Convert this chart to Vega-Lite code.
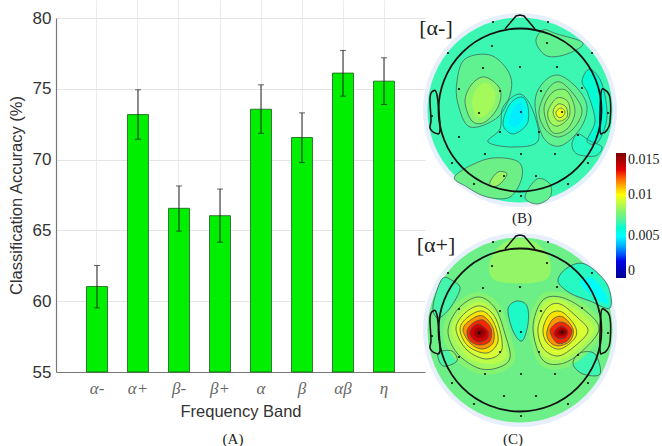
{
"$schema":"https://vega.github.io/schema/vega-lite/v6.json",
"background":"white",
"padding":{"left":8,"top":0,"right":0,"bottom":0},
"config":{"view":{"stroke":null},"font":"Liberation Sans"},
"bounds":"flush",
"spacing":0,
"datasets":{
"dots":[{"x":-27,"y":88},{"x":28,"y":88},{"x":-28,"y":64},{"x":27,"y":67},{"x":-72,"y":57},{"x":72,"y":57},{"x":-37,"y":42},{"x":0,"y":43},{"x":37,"y":43},{"x":-61,"y":21},{"x":-20,"y":19},{"x":21,"y":19},{"x":62,"y":22},{"x":-88,"y":-6},{"x":-41,"y":-3},{"x":1,"y":-2},{"x":42,"y":-2},{"x":88,"y":-3},{"x":-61,"y":-27},{"x":-20,"y":-22},{"x":19,"y":-22},{"x":58,"y":-25},{"x":-35,"y":-44},{"x":1,"y":-44},{"x":35,"y":-44},{"x":-68,"y":-53},{"x":68,"y":-53},{"x":-16,"y":-66},{"x":16,"y":-66},{"x":-46,"y":-74},{"x":48,"y":-74},{"x":1,"y":-86}],
"nose":[{"x":-15,"y":81},{"x":-4,"y":94},{"x":0,"y":95},{"x":4,"y":94},{"x":15,"y":81}],
"ears":[{"e":"l","x":-83,"y":15},{"e":"l","x":-87,"y":19},{"e":"l","x":-90,"y":12},{"e":"l","x":-89,"y":-10},{"e":"l","x":-90,"y":-18},{"e":"l","x":-85,"y":-23},{"e":"l","x":-80,"y":-20},{"e":"r","x":81,"y":17},{"e":"r","x":85,"y":20},{"e":"r","x":90,"y":12},{"e":"r","x":90,"y":-12},{"e":"r","x":87,"y":-20},{"e":"r","x":83,"y":-23},{"e":"r","x":80,"y":-20}],
"mapB":[
{"c":"L1","v":0.0072,"x":-63,"y":29},{"c":"L1","v":0.0072,"x":-55,"y":51},{"c":"L1","v":0.0072,"x":-30,"y":55},{"c":"L1","v":0.0072,"x":-12,"y":39},{"c":"L1","v":0.0072,"x":-9,"y":19},{"c":"L1","v":0.0072,"x":-22,"y":-7},{"c":"L1","v":0.0072,"x":-50,"y":-17},{"c":"L1","v":0.0072,"x":-62,"y":6},
{"c":"L2","v":0.008,"x":-55,"y":9},{"c":"L2","v":0.008,"x":-48,"y":26},{"c":"L2","v":0.008,"x":-35,"y":33},{"c":"L2","v":0.008,"x":-20,"y":21},{"c":"L2","v":0.008,"x":-22,"y":3},{"c":"L2","v":0.008,"x":-35,"y":-12},{"c":"L2","v":0.008,"x":-48,"y":-11},
{"c":"L2b","v":0.0085,"b":1,"x":-48,"y":8},{"c":"L2b","v":0.0085,"b":1,"x":-43,"y":22},{"c":"L2b","v":0.0085,"b":1,"x":-34,"y":27},{"c":"L2b","v":0.0085,"b":1,"x":-25,"y":18},{"c":"L2b","v":0.0085,"b":1,"x":-27,"y":4},{"c":"L2b","v":0.0085,"b":1,"x":-36,"y":-6},{"c":"L2b","v":0.0085,"b":1,"x":-44,"y":-6},
{"c":"M0","v":0.0063,"x":-32,"y":-32},{"c":"M0","v":0.0063,"x":-20,"y":-19},{"c":"M0","v":0.0063,"x":-17,"y":3},{"c":"M0","v":0.0063,"x":0,"y":16},{"c":"M0","v":0.0063,"x":13,"y":-1},{"c":"M0","v":0.0063,"x":18,"y":-31},{"c":"M0","v":0.0063,"x":-7,"y":-37},
{"c":"C1","v":0.0056,"x":-17,"y":-14},{"c":"C1","v":0.0056,"x":-10,"y":6},{"c":"C1","v":0.0056,"x":2,"y":13},{"c":"C1","v":0.0056,"x":8,"y":3},{"c":"C1","v":0.0056,"x":7,"y":-14},{"c":"C1","v":0.0056,"x":-7,"y":-24},
{"c":"C1b","v":0.0047,"b":1,"x":-11,"y":-12},{"c":"C1b","v":0.0047,"b":1,"x":-6,"y":3},{"c":"C1b","v":0.0047,"b":1,"x":1,"y":7},{"c":"C1b","v":0.0047,"b":1,"x":3,"y":0},{"c":"C1b","v":0.0047,"b":1,"x":2,"y":-11},{"c":"C1b","v":0.0047,"b":1,"x":-6,"y":-17},
{"c":"R1","v":0.0072,"x":15,"y":6},{"c":"R1","v":0.0072,"x":22,"y":26},{"c":"R1","v":0.0072,"x":38,"y":35},{"c":"R1","v":0.0072,"x":57,"y":22},{"c":"R1","v":0.0072,"x":67,"y":3},{"c":"R1","v":0.0072,"x":60,"y":-19},{"c":"R1","v":0.0072,"x":40,"y":-36},{"c":"R1","v":0.0072,"x":23,"y":-27},
{"c":"R2","v":0.0076,"x":19,"y":-1},{"c":"R2","v":0.0076,"x":28,"y":21},{"c":"R2","v":0.0076,"x":40,"y":28},{"c":"R2","v":0.0076,"x":55,"y":14},{"c":"R2","v":0.0076,"x":62,"y":-2},{"c":"R2","v":0.0076,"x":53,"y":-19},{"c":"R2","v":0.0076,"x":38,"y":-27},{"c":"R2","v":0.0076,"x":25,"y":-19},
{"c":"R3","v":0.008,"x":24,"y":1},{"c":"R3","v":0.008,"x":33,"y":18},{"c":"R3","v":0.008,"x":47,"y":19},{"c":"R3","v":0.008,"x":55,"y":-1},{"c":"R3","v":0.008,"x":47,"y":-19},{"c":"R3","v":0.008,"x":32,"y":-22},
{"c":"R4","v":0.0085,"x":28,"y":-1},{"c":"R4","v":0.0085,"x":37,"y":12},{"c":"R4","v":0.0085,"x":48,"y":8},{"c":"R4","v":0.0085,"x":49,"y":-7},{"c":"R4","v":0.0085,"x":38,"y":-16},{"c":"R4","v":0.0085,"x":30,"y":-12},
{"c":"R5","v":0.0092,"x":33,"y":-2},{"c":"R5","v":0.0092,"x":38,"y":6},{"c":"R5","v":0.0092,"x":46,"y":3},{"c":"R5","v":0.0092,"x":47,"y":-7},{"c":"R5","v":0.0092,"x":38,"y":-11},
{"c":"R6","v":0.0098,"x":36,"y":-2},{"c":"R6","v":0.0098,"x":41,"y":2},{"c":"R6","v":0.0098,"x":45,"y":-2},{"c":"R6","v":0.0098,"x":42,"y":-7},{"c":"R6","v":0.0098,"x":38,"y":-7},
{"c":"S1","v":0.006,"x":62,"y":29},{"c":"S1","v":0.006,"x":70,"y":41},{"c":"S1","v":0.006,"x":82,"y":26},{"c":"S1","v":0.006,"x":87,"y":-7},{"c":"S1","v":0.006,"x":78,"y":-32},{"c":"S1","v":0.006,"x":67,"y":-31},{"c":"S1","v":0.006,"x":75,"y":-11},{"c":"S1","v":0.006,"x":68,"y":16},
{"c":"S2","v":0.0063,"x":52,"y":-34},{"c":"S2","v":0.0063,"x":58,"y":-24},{"c":"S2","v":0.0063,"x":70,"y":-31},{"c":"S2","v":0.0063,"x":82,"y":-37},{"c":"S2","v":0.0063,"x":75,"y":-46},{"c":"S2","v":0.0063,"x":57,"y":-44},
{"c":"T1","v":0.0072,"x":16,"y":68},{"c":"T1","v":0.0072,"x":23,"y":80},{"c":"T1","v":0.0072,"x":37,"y":76},{"c":"T1","v":0.0072,"x":63,"y":67},{"c":"T1","v":0.0072,"x":47,"y":56},{"c":"T1","v":0.0072,"x":27,"y":54},
{"c":"Q1","v":0.0074,"x":-65,"y":-66},{"c":"Q1","v":0.0074,"x":-33,"y":-49},{"c":"Q1","v":0.0074,"x":-3,"y":-51},{"c":"Q1","v":0.0074,"x":2,"y":-67},{"c":"Q1","v":0.0074,"x":-10,"y":-87},{"c":"Q1","v":0.0074,"x":-33,"y":-87},{"c":"Q1","v":0.0074,"x":-53,"y":-77},
{"c":"Q2","v":0.0083,"x":-30,"y":-72},{"c":"Q2","v":0.0083,"x":-22,"y":-62},{"c":"Q2","v":0.0083,"x":-13,"y":-64},{"c":"Q2","v":0.0083,"x":-20,"y":-74},{"c":"Q2","v":0.0083,"x":-28,"y":-77},
{"c":"P1","v":0.0072,"x":5,"y":-87},{"c":"P1","v":0.0072,"x":17,"y":-69},{"c":"P1","v":0.0072,"x":30,"y":-74},{"c":"P1","v":0.0072,"x":30,"y":-87},{"c":"P1","v":0.0072,"x":17,"y":-94}
],
"mapC":[
{"c":"T","v":0.0082,"b":1,"x":-30,"y":69},{"c":"T","v":0.0082,"b":1,"x":-13,"y":89},{"c":"T","v":0.0082,"b":1,"x":13,"y":89},{"c":"T","v":0.0082,"b":1,"x":30,"y":69},{"c":"T","v":0.0082,"b":1,"x":23,"y":49},{"c":"T","v":0.0082,"b":1,"x":-23,"y":49},
{"c":"U1","v":0.0063,"x":38,"y":49},{"c":"U1","v":0.0063,"x":47,"y":62},{"c":"U1","v":0.0063,"x":65,"y":66},{"c":"U1","v":0.0063,"x":87,"y":46},{"c":"U1","v":0.0063,"x":90,"y":22},{"c":"U1","v":0.0063,"x":70,"y":29},{"c":"U1","v":0.0063,"x":50,"y":37},
{"c":"U2","v":0.0052,"b":1,"x":60,"y":47},{"c":"U2","v":0.0052,"b":1,"x":72,"y":52},{"c":"U2","v":0.0052,"b":1,"x":85,"y":37},{"c":"U2","v":0.0052,"b":1,"x":87,"y":26},{"c":"U2","v":0.0052,"b":1,"x":73,"y":34},
{"c":"V1","v":0.0062,"x":-12,"y":21},{"c":"V1","v":0.0062,"x":-3,"y":29},{"c":"V1","v":0.0062,"x":7,"y":24},{"c":"V1","v":0.0062,"x":8,"y":6},{"c":"V1","v":0.0062,"x":2,"y":-11},{"c":"V1","v":0.0062,"x":-7,"y":-1},
{"c":"W1","v":0.0067,"x":-78,"y":51},{"c":"W1","v":0.0067,"x":-67,"y":49},{"c":"W1","v":0.0067,"x":-60,"y":41},{"c":"W1","v":0.0067,"x":-70,"y":22},{"c":"W1","v":0.0067,"x":-82,"y":12},{"c":"W1","v":0.0067,"x":-87,"y":24},
{"c":"W2","v":0.0068,"x":-82,"y":-23},{"c":"W2","v":0.0068,"x":-68,"y":-21},{"c":"W2","v":0.0068,"x":-63,"y":-31},{"c":"W2","v":0.0068,"x":-77,"y":-36},
{"c":"W3","v":0.0066,"x":53,"y":-34},{"c":"W3","v":0.0066,"x":60,"y":-23},{"c":"W3","v":0.0066,"x":75,"y":-24},{"c":"W3","v":0.0066,"x":80,"y":-44},{"c":"W3","v":0.0066,"x":63,"y":-44},
{"c":"L00","v":0.0079,"b":1,"x":-77,"y":-1},{"c":"L00","v":0.0079,"b":1,"x":-66,"y":25},{"c":"L00","v":0.0079,"b":1,"x":-42,"y":38},{"c":"L00","v":0.0079,"b":1,"x":-21,"y":26},{"c":"L00","v":0.0079,"b":1,"x":-10,"y":-4},{"c":"L00","v":0.0079,"b":1,"x":-5,"y":-30},{"c":"L00","v":0.0079,"b":1,"x":-21,"y":-43},{"c":"L00","v":0.0079,"b":1,"x":-44,"y":-43},{"c":"L00","v":0.0079,"b":1,"x":-67,"y":-27},
{"c":"L0","v":0.0084,"x":-72,"y":-1},{"c":"L0","v":0.0084,"x":-62,"y":21},{"c":"L0","v":0.0084,"x":-42,"y":33},{"c":"L0","v":0.0084,"x":-25,"y":22},{"c":"L0","v":0.0084,"x":-15,"y":-4},{"c":"L0","v":0.0084,"x":-10,"y":-28},{"c":"L0","v":0.0084,"x":-23,"y":-38},{"c":"L0","v":0.0084,"x":-42,"y":-38},{"c":"L0","v":0.0084,"x":-63,"y":-23},
{"c":"L0b","v":0.0089,"b":1,"x":-68,"y":0},{"c":"L0b","v":0.0089,"b":1,"x":-58,"y":19},{"c":"L0b","v":0.0089,"b":1,"x":-40,"y":28},{"c":"L0b","v":0.0089,"b":1,"x":-24,"y":16},{"c":"L0b","v":0.0089,"b":1,"x":-16,"y":-12},{"c":"L0b","v":0.0089,"b":1,"x":-14,"y":-27},{"c":"L0b","v":0.0089,"b":1,"x":-28,"y":-34},{"c":"L0b","v":0.0089,"b":1,"x":-48,"y":-30},{"c":"L0b","v":0.0089,"b":1,"x":-58,"y":-21},
{"c":"L1","v":0.0094,"x":-64,"y":1},{"c":"L1","v":0.0094,"x":-55,"y":17},{"c":"L1","v":0.0094,"x":-39,"y":24},{"c":"L1","v":0.0094,"x":-24,"y":11},{"c":"L1","v":0.0094,"x":-18,"y":-19},{"c":"L1","v":0.0094,"x":-33,"y":-29},{"c":"L1","v":0.0094,"x":-53,"y":-20},
{"c":"L2","v":0.0104,"x":-60,"y":1},{"c":"L2","v":0.0104,"x":-52,"y":13},{"c":"L2","v":0.0104,"x":-38,"y":19},{"c":"L2","v":0.0104,"x":-27,"y":9},{"c":"L2","v":0.0104,"x":-22,"y":-11},{"c":"L2","v":0.0104,"x":-33,"y":-23},{"c":"L2","v":0.0104,"x":-52,"y":-16},
{"c":"L3","v":0.0114,"x":-57,"y":1},{"c":"L3","v":0.0114,"x":-48,"y":11},{"c":"L3","v":0.0114,"x":-37,"y":14},{"c":"L3","v":0.0114,"x":-27,"y":2},{"c":"L3","v":0.0114,"x":-27,"y":-13},{"c":"L3","v":0.0114,"x":-38,"y":-19},{"c":"L3","v":0.0114,"x":-50,"y":-13},
{"c":"L4","v":0.0124,"x":-53,"y":-1},{"c":"L4","v":0.0124,"x":-47,"y":7},{"c":"L4","v":0.0124,"x":-37,"y":10},{"c":"L4","v":0.0124,"x":-29,"y":1},{"c":"L4","v":0.0124,"x":-30,"y":-11},{"c":"L4","v":0.0124,"x":-40,"y":-15},{"c":"L4","v":0.0124,"x":-50,"y":-11},
{"c":"L5","v":0.0133,"x":-50,"y":-1},{"c":"L5","v":0.0133,"x":-42,"y":6},{"c":"L5","v":0.0133,"x":-32,"y":-1},{"c":"L5","v":0.0133,"x":-33,"y":-9},{"c":"L5","v":0.0133,"x":-42,"y":-12},{"c":"L5","v":0.0133,"x":-48,"y":-8},
{"c":"L6","v":0.0142,"b":1,"x":-46,"y":-1},{"c":"L6","v":0.0142,"b":1,"x":-40,"y":3},{"c":"L6","v":0.0142,"b":1,"x":-34,"y":-2},{"c":"L6","v":0.0142,"b":1,"x":-37,"y":-8},{"c":"L6","v":0.0142,"b":1,"x":-44,"y":-7},
{"c":"L7","v":0.015,"b":1,"x":-43,"y":-2},{"c":"L7","v":0.015,"b":1,"x":-40,"y":0},{"c":"L7","v":0.015,"b":1,"x":-37,"y":-2},{"c":"L7","v":0.015,"b":1,"x":-39,"y":-5},{"c":"L7","v":0.015,"b":1,"x":-42,"y":-5},
{"c":"R00","v":0.0079,"b":1,"x":9,"y":2},{"c":"R00","v":0.0079,"b":1,"x":19,"y":33},{"c":"R00","v":0.0079,"b":1,"x":40,"y":38},{"c":"R00","v":0.0079,"b":1,"x":66,"y":25},{"c":"R00","v":0.0079,"b":1,"x":84,"y":1},{"c":"R00","v":0.0079,"b":1,"x":63,"y":-27},{"c":"R00","v":0.0079,"b":1,"x":40,"y":-39},{"c":"R00","v":0.0079,"b":1,"x":19,"y":-33},
{"c":"R0","v":0.0084,"x":13,"y":2},{"c":"R0","v":0.0084,"x":22,"y":29},{"c":"R0","v":0.0084,"x":40,"y":33},{"c":"R0","v":0.0084,"x":63,"y":21},{"c":"R0","v":0.0084,"x":79,"y":1},{"c":"R0","v":0.0084,"x":60,"y":-23},{"c":"R0","v":0.0084,"x":40,"y":-34},{"c":"R0","v":0.0084,"x":22,"y":-29},
{"c":"R0b","v":0.0089,"b":1,"x":15,"y":2},{"c":"R0b","v":0.0089,"b":1,"x":24,"y":26},{"c":"R0b","v":0.0089,"b":1,"x":40,"y":30},{"c":"R0b","v":0.0089,"b":1,"x":61,"y":17},{"c":"R0b","v":0.0089,"b":1,"x":74,"y":0},{"c":"R0b","v":0.0089,"b":1,"x":58,"y":-20},{"c":"R0b","v":0.0089,"b":1,"x":39,"y":-30},{"c":"R0b","v":0.0089,"b":1,"x":22,"y":-24},
{"c":"R1","v":0.0094,"x":18,"y":2},{"c":"R1","v":0.0094,"x":27,"y":22},{"c":"R1","v":0.0094,"x":40,"y":26},{"c":"R1","v":0.0094,"x":58,"y":12},{"c":"R1","v":0.0094,"x":68,"y":-1},{"c":"R1","v":0.0094,"x":55,"y":-16},{"c":"R1","v":0.0094,"x":38,"y":-26},{"c":"R1","v":0.0094,"x":23,"y":-18},
{"c":"R2","v":0.0104,"x":23,"y":1},{"c":"R2","v":0.0104,"x":30,"y":16},{"c":"R2","v":0.0104,"x":42,"y":18},{"c":"R2","v":0.0104,"x":55,"y":4},{"c":"R2","v":0.0104,"x":55,"y":-8},{"c":"R2","v":0.0104,"x":40,"y":-19},{"c":"R2","v":0.0104,"x":27,"y":-13},
{"c":"R3","v":0.0114,"x":27,"y":-1},{"c":"R3","v":0.0114,"x":33,"y":11},{"c":"R3","v":0.0114,"x":43,"y":13},{"c":"R3","v":0.0114,"x":53,"y":1},{"c":"R3","v":0.0114,"x":50,"y":-11},{"c":"R3","v":0.0114,"x":38,"y":-16},{"c":"R3","v":0.0114,"x":29,"y":-11},
{"c":"R4","v":0.0124,"x":30,"y":-1},{"c":"R4","v":0.0124,"x":37,"y":7},{"c":"R4","v":0.0124,"x":45,"y":7},{"c":"R4","v":0.0124,"x":52,"y":-1},{"c":"R4","v":0.0124,"x":47,"y":-11},{"c":"R4","v":0.0124,"x":37,"y":-13},
{"c":"R5","v":0.0133,"x":34,"y":-2},{"c":"R5","v":0.0133,"x":41,"y":4},{"c":"R5","v":0.0133,"x":48,"y":-1},{"c":"R5","v":0.0133,"x":45,"y":-8},{"c":"R5","v":0.0133,"x":37,"y":-8},
{"c":"R6","v":0.0142,"b":1,"x":37,"y":-2},{"c":"R6","v":0.0142,"b":1,"x":42,"y":2},{"c":"R6","v":0.0142,"b":1,"x":47,"y":-2},{"c":"R6","v":0.0142,"b":1,"x":43,"y":-6},{"c":"R6","v":0.0142,"b":1,"x":38,"y":-5},
{"c":"R7","v":0.015,"b":1,"x":39,"y":-2},{"c":"R7","v":0.015,"b":1,"x":42,"y":0},{"c":"R7","v":0.015,"b":1,"x":45,"y":-2},{"c":"R7","v":0.015,"b":1,"x":43,"y":-4},{"c":"R7","v":0.015,"b":1,"x":40,"y":-4}
]
},
"hconcat":[
{
"width":354,"height":372,
"title":{"text":"(A)","orient":"bottom","font":"Liberation Serif","fontSize":15,"fontWeight":"normal","color":"#222","offset":12},
"data":{"values":[
{"band":"α-","acc":61.04,"lo":59.53,"hi":62.52},
{"band":"α+","acc":73.18,"lo":71.44,"hi":74.93},
{"band":"β-","acc":66.56,"lo":64.95,"hi":68.14},
{"band":"β+","acc":66.04,"lo":64.17,"hi":67.92},
{"band":"α","acc":73.56,"lo":71.86,"hi":75.28},
{"band":"β","acc":71.56,"lo":69.79,"hi":73.3},
{"band":"αβ","acc":76.11,"lo":74.48,"hi":77.71},
{"band":"η","acc":75.54,"lo":73.89,"hi":77.19}
]},
"encoding":{
"x":{"field":"band","type":"nominal","sort":null,"title":"Frequency Band",
"scale":{"range":[0,369],"paddingInner":0.488,"paddingOuter":0.744},
"axis":{"labelAngle":0,"labelFont":"Liberation Serif","labelFontStyle":"italic","labelFontSize":17,"labelColor":"#666","labelPadding":8,"tickSize":0,"domainColor":"#777","domainWidth":1.2,"grid":true,"gridColor":"#ebebeb","titleFont":"Liberation Sans","titleFontSize":16.5,"titleFontWeight":"normal","titleColor":"#333","titlePadding":7}}
},
"layer":[
{"mark":{"type":"bar","color":"#00ee00","stroke":"#1d5a1d","strokeWidth":0.8},
"encoding":{"y":{"field":"acc","type":"quantitative","title":"Classification Accuracy (%)",
"scale":{"domain":[55,80],"range":[372,18],"nice":false},
"axis":{"values":[55,60,65,70,75,80],"labelFontSize":17,"labelColor":"#333","labelPadding":5,"tickSize":0,"domainColor":"#777","domainWidth":1.2,"grid":true,"gridColor":"#e4e4e4","titleFontSize":16.5,"titleFontWeight":"normal","titleColor":"#333","titlePadding":8}},"y2":{"datum":55}}},
{"mark":{"type":"rule","color":"#222","strokeWidth":1},"encoding":{"y":{"field":"lo","type":"quantitative"},"y2":{"field":"hi"}}},
{"mark":{"type":"tick","color":"#222","size":6,"thickness":1},"encoding":{"y":{"field":"lo","type":"quantitative"}}},
{"mark":{"type":"tick","color":"#222","size":6,"thickness":1},"encoding":{"y":{"field":"hi","type":"quantitative"}}}
]
},
{
"spacing":0,
"bounds":"flush",
"vconcat":[
{
"width":220,"height":220,
"encoding":{"x":{"field":"x","type":"quantitative","scale":{"domain":[-110,110],"nice":false},"axis":null},"y":{"field":"y","type":"quantitative","scale":{"domain":[-110,110],"nice":false},"axis":null}},
"layer":[
{"data":{"values":[{"x":0,"y":0}]},"mark":{"type":"point","shape":"circle","filled":true,"size":37636,"color":"#e6effa","opacity":1}},
{"data":{"values":[{"x":0,"y":0,"v":0.0066}]},"mark":{"type":"point","shape":"circle","filled":true,"size":34225,"opacity":1},
"encoding":{"fill":{"field":"v","type":"quantitative","scale":{"domain":[0,0.0025,0.005,0.0075,0.01,0.0125,0.015],"range":["#00008f","#0000ff","#00ffff","#70ee80","#ffff00","#ff0000","#7a0000"]},
"legend":{"orient":"none","legendX":560,"legendY":153,"direction":"vertical","gradientLength":125,"gradientThickness":10,"gradientStrokeWidth":0,"values":[0,0.005,0.01,0.015],"format":".3~f","title":null,"labelFont":"Liberation Serif","labelFontSize":14,"labelColor":"#222","labelOffset":2,"tickCount":4}}}},
{"data":{"name":"mapB"},"mark":{"type":"line","order":null,"interpolate":"cardinal-closed","strokeWidth":0,"strokeOpacity":0},
"encoding":{"detail":{"field":"c"},"fill":{"field":"v","type":"quantitative"}}},
{"data":{"name":"mapB"},"transform":[{"filter":"!datum.b"}],"mark":{"type":"line","order":null,"interpolate":"cardinal-closed","stroke":"#3d6b5e","strokeWidth":0.8},
"encoding":{"detail":{"field":"c"}}},
{"data":{"name":"nose"},"mark":{"type":"line","order":null,"color":"#111","strokeWidth":1.5}},
{"data":{"name":"ears"},"mark":{"type":"line","order":null,"interpolate":"cardinal-closed","color":"#111","strokeWidth":1.5},"encoding":{"detail":{"field":"e"}}},
{"data":{"values":[{"x":0,"y":0}]},"mark":{"type":"point","shape":"circle","size":26569,"filled":false,"stroke":"#111","strokeWidth":1.8,"opacity":1}},
{"data":{"name":"dots"},"mark":{"type":"circle","size":5,"color":"#111","opacity":1}},
{"data":{"values":[{"x":-84,"y":82,"t":"[α-]"}]},"mark":{"type":"text","font":"Liberation Serif","fontSize":22,"color":"#222"},"encoding":{"text":{"field":"t"}}},
{"data":{"values":[{"x":2,"y":-108,"t":"(B)"}]},"mark":{"type":"text","font":"Liberation Serif","fontSize":15,"color":"#222"},"encoding":{"text":{"field":"t"}}}
]
},
{
"width":220,"height":220,
"encoding":{"x":{"field":"x","type":"quantitative","scale":{"domain":[-110,110],"nice":false},"axis":null},"y":{"field":"y","type":"quantitative","scale":{"domain":[-110,110],"nice":false},"axis":null}},
"layer":[
{"data":{"values":[{"x":0,"y":0}]},"mark":{"type":"point","shape":"circle","filled":true,"size":37636,"color":"#e6effa","opacity":1}},
{"data":{"values":[{"x":0,"y":0,"v":0.0074}]},"mark":{"type":"point","shape":"circle","filled":true,"size":34225,"opacity":1},
"encoding":{"fill":{"field":"v","type":"quantitative","scale":{"domain":[0,0.0025,0.005,0.0075,0.01,0.0125,0.015],"range":["#00008f","#0000ff","#00ffff","#70ee80","#ffff00","#ff0000","#7a0000"]},"legend":null}}},
{"data":{"name":"mapC"},"mark":{"type":"line","order":null,"interpolate":"cardinal-closed","strokeWidth":0,"strokeOpacity":0},
"encoding":{"detail":{"field":"c"},"fill":{"field":"v","type":"quantitative"}}},
{"data":{"name":"mapC"},"transform":[{"filter":"!datum.b"}],"mark":{"type":"line","order":null,"interpolate":"cardinal-closed","stroke":"#3d5a4e","strokeWidth":0.8},
"encoding":{"detail":{"field":"c"}}},
{"data":{"name":"nose"},"mark":{"type":"line","order":null,"color":"#111","strokeWidth":1.5}},
{"data":{"name":"ears"},"mark":{"type":"line","order":null,"interpolate":"cardinal-closed","color":"#111","strokeWidth":1.5},"encoding":{"detail":{"field":"e"}}},
{"data":{"values":[{"x":0,"y":0}]},"mark":{"type":"point","shape":"circle","size":26569,"filled":false,"stroke":"#111","strokeWidth":1.8,"opacity":1}},
{"data":{"name":"dots"},"mark":{"type":"circle","size":5,"color":"#111","opacity":1}},
{"data":{"values":[{"x":-84,"y":85,"t":"[α+]"}]},"mark":{"type":"text","font":"Liberation Serif","fontSize":22,"color":"#222"},"encoding":{"text":{"field":"t"}}},
{"data":{"values":[{"x":-7,"y":-109,"t":"(C)"}]},"mark":{"type":"text","font":"Liberation Serif","fontSize":15,"color":"#222"},"encoding":{"text":{"field":"t"}}}
]
}
]
}
]
}
